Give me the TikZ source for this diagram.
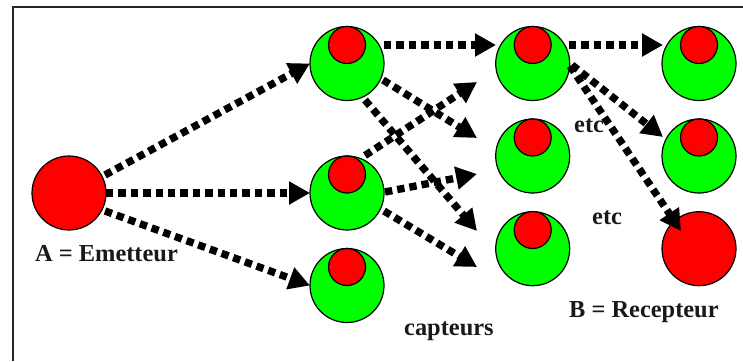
\documentclass[tikz,border=0pt]{standalone}
\usepackage{fontspec}
\setmainfont{Liberation Serif}
\usetikzlibrary{arrows.meta}
\tikzset{
  big/.style={circle,draw=black,line width=1.2pt,fill=#1,minimum size=74pt,inner sep=0pt,outer sep=0pt},
  small/.style={circle,draw=black,line width=1.2pt,fill=red,minimum size=37pt,inner sep=0pt,outer sep=0pt},
  link/.style={line width=7.4pt,dash pattern=on 7.4pt off 5pt,-{Triangle[length=21pt,width=22pt]}},
  label/.style={anchor=base west,inner sep=0pt,font=\fontsize{24.4pt}{26pt}\bfseries,text=black!90},
  frameline/.style={line width=2pt,draw=black!85}
}
\definecolor{lime}{RGB}{0,255,0}
\begin{document}
\begin{tikzpicture}[x=1pt,y=-1pt]
\useasboundingbox (0,0) rectangle (743,361);
\fill[white] (0,0) rectangle (743,361);
\coordinate (ftop) at (743,7);
\coordinate (fcorner) at (13,7);
\coordinate (fbottom) at (13,361);
\draw[frameline] (ftop) -- (fcorner) -- (fbottom);

\node[big=red] (A) at (69,193) {};
\node[big=lime] (n1) at (347,63.5) {};
\node[big=lime] (n2) at (347,193) {};
\node[big=lime] (n3) at (347,285.5) {};
\node[big=lime] (n4) at (532.7,63.5) {};
\node[big=lime] (n5) at (532.7,156) {};
\node[big=lime] (n6) at (532.7,248.7) {};
\node[big=lime] (n7) at (699,63.5) {};
\node[big=lime] (n8) at (699,156) {};
\node[big=red] (B) at (699,248.7) {};
\foreach \n/\x/\y in {s1/347/45,s2/347/174.5,s3/347/267,s4/532.7/45,s5/532.7/137.5,s6/532.7/230,s7/699/45,s8/699/137.5}
  \node[small] (\n) at (\x,\y) {};

\node[label] (lA) at (35,261) {A = Emetteur};
\node[label] (lC) at (404,335) {capteurs};
\node[label] (lE1) at (574,132) {etc};
\node[label] (lE2) at (592,224) {etc};
\node[label] (lB) at (569,317) {B = Recepteur};

\coordinate (p) at (105,175);
\coordinate (q) at (105,211);
\coordinate (a) at (384,45);   \coordinate (a2) at (496,45);
\coordinate (b) at (383,80);   \coordinate (b2) at (477,138);
\coordinate (c) at (365,100);  \coordinate (c2) at (477,231);
\coordinate (d) at (365,155.5);\coordinate (d2) at (477,82);
\coordinate (e) at (385,192);  \coordinate (e2) at (477,174);
\coordinate (f) at (384,211);  \coordinate (f2) at (477,267);
\coordinate (g) at (569,45);   \coordinate (g2) at (663,45);
\coordinate (h) at (572,65);   \coordinate (h2) at (663,137);
\coordinate (i) at (570,66);   \coordinate (i2) at (681,231);

\draw[link] (p) -- (n1.180);
\draw[link] (A.0) -- (n2.180);
\draw[link] (q) -- (n3.180);
\draw[link] (a) -- (a2);
\draw[link] (b) -- (b2);
\draw[link] (c) -- (c2);
\draw[link] (d) -- (d2);
\draw[link] (e) -- (e2);
\draw[link] (f) -- (f2);
\draw[link] (g) -- (g2);
\draw[link] (h) -- (h2);
\draw[link] (i) -- (i2);
\end{tikzpicture}
\end{document}
